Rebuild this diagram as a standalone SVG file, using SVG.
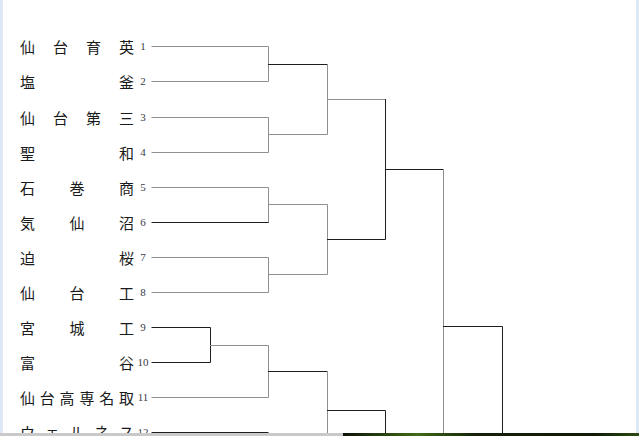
<svg xmlns="http://www.w3.org/2000/svg" width="639" height="436" viewBox="0 0 639 436">
<defs>
<style>
.nm{font-family:"Noto Sans CJK JP","Noto Sans",sans-serif;font-size:15px;fill:#1a1a1a}
.no{font-family:"Liberation Serif",serif;font-size:11px;fill:#3a3a48;text-anchor:middle}
.g{stroke:#8f8f8f;stroke-width:1;fill:none;stroke-linecap:square}
.k{stroke:#1e1e1e;stroke-width:1;fill:none;stroke-linecap:square}
</style>
<linearGradient id="bg" x1="0" y1="0" x2="1" y2="0">
<stop offset="0" stop-color="#0d1208"/>
<stop offset="0.25" stop-color="#3f6a16"/>
<stop offset="0.45" stop-color="#142008"/>
<stop offset="0.85" stop-color="#101a08"/>
<stop offset="1" stop-color="#2c4c10"/>
</linearGradient>
</defs>
<rect x="0" y="0" width="639" height="436" fill="#ffffff"/>
<rect x="0" y="0" width="3" height="436" fill="#dce8f7"/>
<rect x="636" y="0" width="3" height="436" fill="#dce8f7"/>

<g id="team1"><text class="nm" x="20 53 86 119" y="52.5">仙台育英</text><text class="no" x="143" y="50">1</text></g>
<g id="team2"><text class="nm" x="20 119" y="87.5">塩釜</text><text class="no" x="143" y="85">2</text></g>
<g id="team3"><text class="nm" x="20 53 86 119" y="123.5">仙台第三</text><text class="no" x="143" y="121">3</text></g>
<g id="team4"><text class="nm" x="20 119" y="158.5">聖和</text><text class="no" x="143" y="156">4</text></g>
<g id="team5"><text class="nm" x="20 69.5 119" y="193.5">石巻商</text><text class="no" x="143" y="191">5</text></g>
<g id="team6"><text class="nm" x="20 69.5 119" y="228.5">気仙沼</text><text class="no" x="143" y="226">6</text></g>
<g id="team7"><text class="nm" x="20 119" y="263.5">迫桜</text><text class="no" x="143" y="261">7</text></g>
<g id="team8"><text class="nm" x="20 69.5 119" y="298.5">仙台工</text><text class="no" x="143" y="296">8</text></g>
<g id="team9"><text class="nm" x="20 69.5 119" y="333.5">宮城工</text><text class="no" x="143" y="331">9</text></g>
<g id="team10"><text class="nm" x="20 119" y="368.5">富谷</text><text class="no" x="143" y="366">10</text></g>
<g id="team11"><text class="nm" x="20 39.8 59.6 79.4 99.2 119" y="403.5">仙台高専名取</text><text class="no" x="143" y="401">11</text></g>
<g id="team12"><text class="nm" x="20 44.75 69.5 94.25 119" y="437.5">ウェルネス</text><text class="no" x="143" y="435.5">12</text></g>

<g id="connectors">
<path class="g" d="M152 46.5H268.5V81.5H152"/>
<path class="g" d="M152 117.5H268.5V152.5H152"/>
<path class="g" d="M152 187.5H268.5V222.5"/>
<path class="k" d="M152 222.5H268"/>
<path class="g" d="M152 257.5H268.5V292.5H152"/>
<path class="k" d="M152 327.5H210.5V362.5H152"/>
<path class="g" d="M210.5 345.5H268.5V397.5H152"/>
<path class="k" d="M152 432.5H268"/>
<path class="k" d="M268.5 64.5H327.5"/>
<path class="g" d="M268.5 134.5H327.5V64.5"/>
<path class="g" d="M268.5 204.5H327.5V274.5H268.5"/>
<path class="k" d="M268.5 371.5H327.5"/>
<path class="g" d="M327.5 371.5V436"/>
<path class="g" d="M327.5 99.5H385.5"/>
<path class="k" d="M327.5 239.5H385.5V99.5"/>
<path class="k" d="M327.5 410.5H385.5V436"/>
<path class="k" d="M385.5 169.5H443.5"/>
<path class="g" d="M443.5 169.5V436"/>
<path class="k" d="M443.5 326.5H502.5V436"/>
</g>

<rect x="0" y="433" width="343" height="3" fill="#c9c9c9"/>
<rect x="343" y="433" width="296" height="3" fill="url(#bg)"/>
</svg>
